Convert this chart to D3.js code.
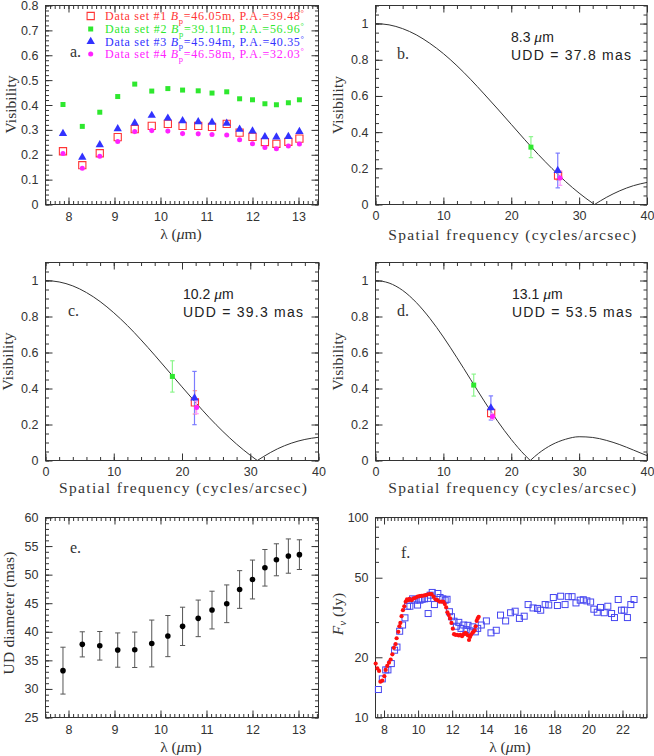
<!DOCTYPE html>
<html><head><meta charset="utf-8">
<script src="https://cdn.jsdelivr.net/npm/d3@7"></script>
<style>body{margin:0;background:#fff}</style>
</head><body>
<svg id="chart" width="654" height="756"></svg>
<script>
// ================= DATA =================
// Panel a: visibilities vs wavelength
const wavelengths = [7.88, 8.30, 8.68, 9.07, 9.44, 9.81, 10.16, 10.48, 10.82, 11.12, 11.44, 11.72, 12.00, 12.27, 12.52, 12.78, 13.02];
const visSet1 = [0.214, 0.158, 0.206, 0.271, 0.303, 0.316, 0.324, 0.316, 0.316, 0.312, 0.324, 0.289, 0.272, 0.251, 0.244, 0.252, 0.265];
const visSet2 = [0.402, 0.314, 0.371, 0.434, 0.484, 0.456, 0.466, 0.460, 0.457, 0.448, 0.453, 0.425, 0.421, 0.405, 0.401, 0.409, 0.421];
const visSet3 = [0.285, 0.190, 0.240, 0.304, 0.327, 0.358, 0.347, 0.336, 0.332, 0.330, 0.326, 0.302, 0.295, 0.272, 0.271, 0.273, 0.293];
const visSet4 = [0.205, 0.146, 0.194, 0.253, 0.293, 0.297, 0.295, 0.285, 0.284, 0.281, 0.279, 0.260, 0.244, 0.229, 0.224, 0.235, 0.243];
const setNames = ["Data set #1", "Data set #2", "Data set #3", "Data set #4"];
const setBaselines = ["46.05", "39.11", "45.94", "46.58"];
const setPAs = ["39.48", "56.96", "40.35", "32.03"];

// Panels b, c, d: uniform-disk model curves (sampled) and observations
const modelFreqB = [0, 2, 4, 6, 8, 10, 12, 14, 16, 18, 20, 22, 24, 26, 28, 30, 32, 32.27, 34, 36, 38, 40];
const modelVisB  = [1, 0.993, 0.972, 0.938, 0.891, 0.834, 0.767, 0.692, 0.611, 0.528, 0.443, 0.358, 0.276, 0.199, 0.127, 0.063, 0.007, 0, 0.039, 0.076, 0.104, 0.122];
const modelFreqC = [0, 2, 4, 6, 8, 10, 12, 14, 16, 18, 20, 22, 24, 26, 28, 30, 31.03, 32, 34, 36, 38, 40];
const modelVisC  = [1, 0.992, 0.970, 0.933, 0.883, 0.821, 0.750, 0.670, 0.585, 0.497, 0.409, 0.322, 0.238, 0.161, 0.091, 0.029, 0, 0.023, 0.065, 0.096, 0.117, 0.129];
const modelFreqD = [0, 2, 4, 6, 8, 10, 12, 14, 16, 18, 20, 22, 22.8, 24, 26, 28, 30, 32, 34, 36, 38, 40];
const modelVisD  = [1, 0.986, 0.945, 0.878, 0.790, 0.686, 0.571, 0.451, 0.331, 0.218, 0.117, 0.030, 0, 0.039, 0.088, 0.118, 0.132, 0.128, 0.112, 0.088, 0.058, 0.027];

// observation order: set1 (red), set2 (green), set3 (blue), set4 (magenta)
const obsFreqB = [26.9, 22.9, 26.85, 27.2];
const obsVisB  = [0.160, 0.317, 0.188, 0.146];
const obsErrB  = [0.025, 0.058, 0.096, 0.040];
const obsFreqC = [21.89, 18.59, 21.83, 22.14];
const obsVisC  = [0.323, 0.467, 0.347, 0.295];
const obsErrC  = [0.065, 0.087, 0.148, 0.035];
const obsFreqD = [17.04, 14.47, 17.0, 17.24];
const obsVisD  = [0.264, 0.419, 0.292, 0.244];
const obsErrD  = [0.022, 0.061, 0.067, 0.016];
const panelWave = ["8.3", "10.2", "13.1"];
const panelUDD  = ["37.8", "39.3", "53.5"];

// Panel e: UD diameter vs wavelength
const udDiameter = [33.2, 37.8, 37.55, 36.8, 36.85, 37.95, 39.25, 40.95, 42.35, 43.8, 44.9, 47.4, 49.15, 51.2, 52.6, 53.25, 53.5];
const udError    = [4.1, 2.2, 2.5, 3.0, 3.1, 4.1, 3.6, 3.35, 3.2, 3.3, 3.3, 3.3, 3.4, 3.2, 2.8, 3.0, 2.6];

// Panel f: spectra
const isoLambda = [7.67,7.90,8.10,8.23,8.43,8.62,8.76,8.92,9.09,9.23,9.38,9.52,9.68,9.81,9.97,10.11,10.24,10.38,10.57,10.59,10.71,10.83,10.96,11.16,11.29,11.45,11.59,11.70,11.84,11.96,12.11,12.25,12.39,12.52,12.68,12.82,12.93,13.07,13.21,13.36,13.50,13.71,14.01,14.28,14.59,14.84,15.14,15.43,15.70,15.95,16.23,16.46,16.75,17.01,17.20,17.46,17.67,17.94,18.18,18.37,18.63,18.82,19.04,19.27,19.52,19.70,19.91,20.13,20.32,20.52,20.71,20.93,21.14,21.36,21.53,21.75,21.94,22.10,22.29,22.49,22.68];
const isoFlux = [13.8,15.6,17.3,17.3,18.6,21.7,22.5,27.0,29.0,31.5,36.0,36.0,39.2,38.6,36.5,38.6,39.0,39.2,39.4,33.1,40.9,42.2,36.7,41.7,39.8,39.2,38.6,39.0,33.8,31.9,30.3,28.6,29.9,27.9,29.0,27.5,28.9,27.1,28.4,26.8,27.9,29.0,30.4,26.5,27.3,32.5,30.4,33.4,34.0,31.3,32.1,36.7,35.3,35.1,34.4,36.7,36.5,39.8,36.3,40.4,36.7,40.2,40.2,37.4,38.6,38.8,38.3,37.8,34.8,33.6,35.5,33.4,36.0,33.1,31.6,38.9,34.4,34.4,31.6,36.7,38.9];
const midiLambda = [7.51,7.61,7.71,7.79,7.90,8.02,8.10,8.19,8.29,8.39,8.49,8.58,8.68,8.74,8.84,8.90,8.96,9.03,9.11,9.19,9.27,9.35,9.42,9.50,9.62,9.74,9.85,9.97,10.09,10.20,10.32,10.44,10.55,10.67,10.79,10.91,11.02,11.14,11.26,11.37,11.49,11.57,11.65,11.72,11.80,11.88,11.96,12.04,12.11,12.19,12.29,12.39,12.48,12.58,12.68,12.78,12.85,12.93,12.99,13.05,13.11,13.19,13.26,13.32,13.38,13.44,13.50,13.56];
const midiFlux = [18.6,17.6,17.1,15.1,15.3,16.1,17.3,18.1,18.8,19.5,20.7,22.3,23.3,24.9,26.8,28.6,29.7,32.1,34.4,36.0,37.9,39.0,38.6,39.2,38.6,39.4,39.7,40.2,40.4,40.6,40.7,40.9,41.2,41.4,41.4,40.2,39.0,38.6,37.9,38.0,37.9,36.9,35.5,33.6,32.5,31.3,29.7,27.8,26.1,25.9,25.9,25.7,25.9,25.5,26.1,26.5,26.1,25.7,24.4,25.3,25.9,26.5,26.8,27.3,28.6,30.4,31.3,31.9];

// ================= STYLE =================
const SANS = "'Liberation Sans', Arial, Helvetica, sans-serif";
const SERIF = "'Liberation Serif', 'Times New Roman', serif";
const INK = "#333";
const setColors = ["#ff3535", "#2ee82e", "#3232ff", "#ff22ff"];
const errColors = ["#ff9a9a", "#8cf58c", "#7c7cff", "#ff9aff"];

const svg = d3.select("#chart");

function drawAxes(xs, ys, o) {
  const [x0, x1] = xs.range();
  const [y1, y0] = ys.range();
  const mk = (fn, scale, vals, size, fmt, tr, pad) => {
    const a = fn(scale).tickValues(vals).tickSizeInner(-size).tickSizeOuter(0)
      .tickPadding(pad || 6).tickFormat(fmt || (() => ""));
    const g = svg.append("g").attr("transform", tr).call(a);
    g.select(".domain").remove();
    g.selectAll("line").attr("stroke", INK).attr("stroke-width", 1);
    g.selectAll("text").attr("font-family", SANS).attr("font-size", 12.5).attr("fill", INK);
    return g;
  };
  mk(d3.axisBottom, xs, o.xMaj, 7, o.xFmt, `translate(0,${y1})`, o.xPad);
  mk(d3.axisBottom, xs, o.xMin, 3.5, null, `translate(0,${y1})`);
  mk(d3.axisTop, xs, o.xMaj, 7, null, `translate(0,${y0})`);
  mk(d3.axisTop, xs, o.xMin, 3.5, null, `translate(0,${y0})`);
  mk(d3.axisLeft, ys, o.yMaj, 7, o.yFmt, `translate(${x0},0)`, 7);
  mk(d3.axisLeft, ys, o.yMin, 3.5, null, `translate(${x0},0)`);
  mk(d3.axisRight, ys, o.yMaj, 7, null, `translate(${x1},0)`);
  mk(d3.axisRight, ys, o.yMin, 3.5, null, `translate(${x1},0)`);
  svg.append("rect").attr("x", x0).attr("y", y0).attr("width", x1 - x0).attr("height", y1 - y0)
    .attr("fill", "none").attr("stroke", INK).attr("stroke-width", 1);
}

function lambdaTitle(cx, by) {
  const t = svg.append("text").attr("x", cx).attr("y", by).attr("text-anchor", "middle")
    .attr("font-family", SERIF).attr("font-size", 15.5).attr("fill", INK);
  t.append("tspan").text("λ (");
  t.append("tspan").attr("font-style", "italic").text("μ");
  t.append("tspan").text("m)");
}
function xTitle(text, cx, by, len) {
  svg.append("text").attr("x", cx).attr("y", by).attr("text-anchor", "middle")
    .attr("font-family", SERIF).attr("font-size", 15.5).attr("fill", INK)
    .attr("textLength", len).attr("lengthAdjust", "spacing").text(text);
}
function yTitle(text, cx, cy, len) {
  svg.append("text").attr("transform", `translate(${cx},${cy}) rotate(-90)`)
    .attr("text-anchor", "middle").attr("dy", "0.3em")
    .attr("font-family", SERIF).attr("font-size", 15.5).attr("fill", INK)
    .attr("textLength", len).attr("lengthAdjust", "spacing").text(text);
}
function panelLetter(text, x, y) {
  svg.append("text").attr("x", x).attr("y", y).attr("font-family", SERIF)
    .attr("font-size", 16).attr("fill", INK).text(text);
}
const range1 = (a, b, s) => d3.range(Math.round(a / s), Math.round(b / s) + 1).map(k => +(k * s).toFixed(4));

// marker helpers
const sym = (type, size) => d3.symbol().type(type).size(size)();
function marker(setIdx, x, y, scale = 1) {
  const c = setColors[setIdx];
  if (setIdx === 0) {
    svg.append("path").attr("d", sym(d3.symbolSquare, 52 * scale)).attr("transform", `translate(${x},${y})`)
      .attr("fill", "none").attr("stroke", c).attr("stroke-width", 1.1);
  } else if (setIdx === 1) {
    svg.append("path").attr("d", sym(d3.symbolSquare, 25 * scale)).attr("transform", `translate(${x},${y})`).attr("fill", c);
  } else if (setIdx === 2) {
    svg.append("path").attr("d", sym(d3.symbolTriangle, 30 * scale)).attr("transform", `translate(${x},${y})`).attr("fill", c);
  } else {
    svg.append("path").attr("d", sym(d3.symbolCircle, 20 * scale)).attr("transform", `translate(${x},${y})`).attr("fill", c);
  }
}

// ================= PANEL A =================
{
  const xs = d3.scaleLinear().domain([7.5, 13.435]).range([45.5, 318.5]);
  const ys = d3.scaleLinear().domain([0, 0.8]).range([204.5, 5.5]);
  drawAxes(xs, ys, {
    xMaj: [8, 9, 10, 11, 12, 13], xMin: range1(7.5, 13.4, 0.1), xFmt: d3.format("d"), xPad: 8,
    yMaj: range1(0, 0.8, 0.1), yMin: range1(0, 0.8, 0.02), yFmt: d => d === 0 ? "0" : d3.format(".1f")(d)
  });
  const sets = [visSet1, visSet2, visSet3, visSet4];
  [1, 0, 2, 3].forEach(si => {
    sets[si].forEach((v, i) => marker(si, xs(wavelengths[i]), ys(v)));
  });
  // legend
  const rows = [16, 29, 41.5, 54];
  setNames.forEach((name, i) => {
    marker(i, 90.7, rows[i]);
    const t = svg.append("text").attr("x", 105).attr("y", rows[i] + 4).attr("fill", setColors[i])
      .attr("font-family", SERIF).attr("font-size", 12)
      .attr("textLength", 199).attr("lengthAdjust", "spacing");
    t.append("tspan").text(name + " ");
    t.append("tspan").attr("font-style", "italic").text("B");
    t.append("tspan").attr("font-size", 8.5).attr("dy", 3.5).text("p");
    t.append("tspan").attr("dy", -3.5).text("=" + setBaselines[i] + "m, P.A.=" + setPAs[i]);
    t.append("tspan").attr("font-size", 8.5).attr("dy", -4).text("°");
  });
  panelLetter("a.", 70, 57);
  yTitle("Visibility", 11, 104.5, 58);
  lambdaTitle(181, 239);
}

// ================= PANELS B, C, D =================
function visPanel(frame, mFreq, mVis, oFreq, oVis, oErr, idx, letterPos, xPad, titleY) {
  const xs = d3.scaleLinear().domain([0, 40]).range([frame[0], frame[1]]);
  const ys = d3.scaleLinear().domain([0, 1.1]).range([frame[3], frame[2]]);
  drawAxes(xs, ys, {
    xMaj: [0, 10, 20, 30, 40], xMin: range1(0, 40, 2), xFmt: d3.format("d"), xPad: xPad,
    yMaj: [0, 0.2, 0.4, 0.6, 0.8, 1.0], yMin: range1(0, 1.1, 0.05),
    yFmt: d => (d === 0 ? "0" : d === 1 ? "1" : d3.format(".1f")(d))
  });
  // model curve, split at the null
  const zi = mVis.indexOf(0);
  const pts = mFreq.map((f, i) => [f, mVis[i]]);
  const line = d3.line().x(d => xs(d[0])).y(d => ys(d[1])).curve(d3.curveMonotoneX);
  [pts.slice(0, zi + 1), pts.slice(zi)].forEach(seg => {
    svg.append("path").attr("d", line(seg)).attr("fill", "none").attr("stroke", INK).attr("stroke-width", 1);
  });
  // observations
  const order = [1, 0, 2, 3];
  order.forEach(si => {
    const x = xs(oFreq[si]), yt = ys(oVis[si] + oErr[si]), yb = ys(oVis[si] - oErr[si]);
    const g = svg.append("g").attr("stroke", errColors[si]).attr("stroke-width", 1.2);
    g.append("line").attr("x1", x).attr("x2", x).attr("y1", yt).attr("y2", yb);
    g.append("line").attr("x1", x - 2.2).attr("x2", x + 2.2).attr("y1", yt).attr("y2", yt);
    g.append("line").attr("x1", x - 2.2).attr("x2", x + 2.2).attr("y1", yb).attr("y2", yb);
  });
  order.forEach(si => marker(si, xs(oFreq[si]), ys(oVis[si])));
  // annotation
  const ax = letterPos[2], ay = letterPos[3];
  const t1 = svg.append("text").attr("x", ax).attr("y", ay).attr("font-family", SANS)
    .attr("font-size", 14).attr("fill", "#222");
  t1.append("tspan").text(panelWave[idx] + " ");
  t1.append("tspan").attr("font-family", SERIF).attr("font-style", "italic").attr("font-size", 15.5).text("μ");
  t1.append("tspan").text("m");
  svg.append("text").attr("x", ax).attr("y", ay + 18).attr("font-family", SANS)
    .attr("font-size", 14).attr("fill", "#222").attr("textLength", 120).attr("lengthAdjust", "spacing")
    .text("UDD = " + panelUDD[idx] + " mas");
  panelLetter(["b.", "c.", "d."][idx], letterPos[0], letterPos[1]);
  const cx = (frame[0] + frame[1]) / 2;
  xTitle("Spatial frequency (cycles/arcsec)", cx + 1, titleY, 248);
  yTitle("Visibility", frame[0] - 37, (frame[2] + frame[3]) / 2, 58);
}
visPanel([375.5, 647, 5.5, 204.5], modelFreqB, modelVisB, obsFreqB, obsVisB, obsErrB, 0, [397, 59, 511, 42], 6.5, 240);
visPanel([45.5, 318.5, 262.5, 460.5], modelFreqC, modelVisC, obsFreqC, obsVisC, obsErrC, 1, [68, 316, 183, 298.5], 7, 493);
visPanel([375.5, 647, 262.5, 460.5], modelFreqD, modelVisD, obsFreqD, obsVisD, obsErrD, 2, [397, 316, 512, 298.5], 7, 493);

// ================= PANEL E =================
{
  const xs = d3.scaleLinear().domain([7.5, 13.435]).range([45.5, 318.5]);
  const ys = d3.scaleLinear().domain([25, 60]).range([717.5, 517.5]);
  drawAxes(xs, ys, {
    xMaj: [8, 9, 10, 11, 12, 13], xMin: range1(7.5, 13.4, 0.1), xFmt: d3.format("d"), xPad: 7.5,
    yMaj: range1(25, 60, 5), yMin: range1(25, 60, 1), yFmt: d3.format("d")
  });
  udDiameter.forEach((d, i) => {
    const x = xs(wavelengths[i]), yt = ys(d + udError[i]), yb = ys(d - udError[i]);
    const g = svg.append("g").attr("stroke", "#555").attr("stroke-width", 1);
    g.append("line").attr("x1", x).attr("x2", x).attr("y1", yt).attr("y2", yb);
    g.append("line").attr("x1", x - 2.6).attr("x2", x + 2.6).attr("y1", yt).attr("y2", yt);
    g.append("line").attr("x1", x - 2.6).attr("x2", x + 2.6).attr("y1", yb).attr("y2", yb);
    svg.append("circle").attr("cx", x).attr("cy", ys(d)).attr("r", 2.8).attr("fill", "#000");
  });
  panelLetter("e.", 70, 553);
  yTitle("UD diameter (mas)", 9, 613, 123);
  lambdaTitle(181, 752);
}

// ================= PANEL F =================
{
  const xs = d3.scaleLinear().domain([7.5, 23.44]).range([375.5, 647]);
  const ys = d3.scaleLog().domain([10, 100]).range([717.5, 517.5]);
  drawAxes(xs, ys, {
    xMaj: [8, 10, 12, 14, 16, 18, 20, 22], xMin: range1(7.6, 23.4, 0.2), xFmt: d3.format("d"), xPad: 7.5,
    yMaj: [10, 20, 50, 100], yMin: [30, 40, 60, 70, 80, 90], yFmt: d3.format("d")
  });
  isoLambda.forEach((l, i) => {
    svg.append("rect").attr("x", xs(l) - 3).attr("y", ys(isoFlux[i]) - 3).attr("width", 6).attr("height", 6)
      .attr("fill", "none").attr("stroke", "#4646f0").attr("stroke-width", 1);
  });
  midiLambda.forEach((l, i) => {
    svg.append("circle").attr("cx", xs(l)).attr("cy", ys(midiFlux[i])).attr("r", 2.1).attr("fill", "#ff1010");
  });
  panelLetter("f.", 401, 558);
  const t = svg.append("text").attr("transform", `translate(338,614) rotate(-90)`)
    .attr("text-anchor", "middle").attr("dy", "0.3em")
    .attr("font-family", SERIF).attr("font-size", 15.5).attr("fill", INK);
  t.append("tspan").attr("font-style", "italic").text("F");
  t.append("tspan").attr("font-style", "italic").attr("font-size", 11).attr("dy", 3).text("ν");
  t.append("tspan").attr("dy", -3).text(" (Jy)");
  lambdaTitle(510, 752);
}
</script>
</body></html>
